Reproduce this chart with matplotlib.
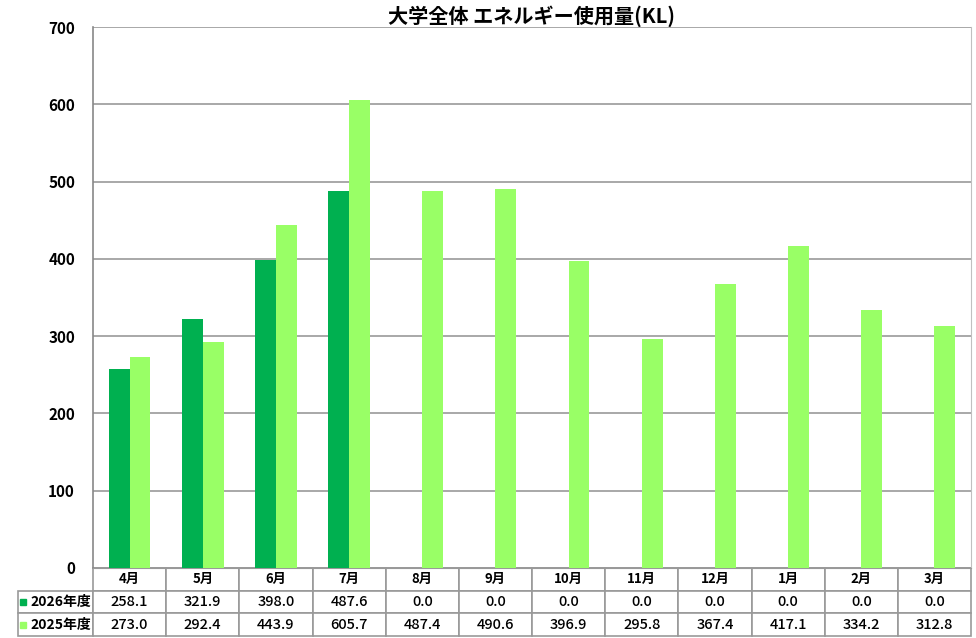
import numpy as np
import matplotlib
matplotlib.use("Agg")
import matplotlib.pyplot as plt

plt.rcParams['font.family'] = ['Noto Sans CJK JP', 'DejaVu Sans']

# データ
months = ['4月', '5月', '6月', '7月', '8月', '9月', '10月', '11月', '12月', '1月', '2月', '3月']
fy2026 = [258.1, 321.9, 398.0, 487.6, 0.0, 0.0, 0.0, 0.0, 0.0, 0.0, 0.0, 0.0]
fy2025 = [273.0, 292.4, 443.9, 605.7, 487.4, 490.6, 396.9, 295.8, 367.4, 417.1, 334.2, 312.8]
series_names = ['2026年度', '2025年度']
colors = ['#00B050', '#99FF66']
title = '大学全体 エネルギー使用量(KL)'

fig = plt.figure(figsize=(9.76, 6.38), dpi=100)
ax = fig.add_axes([93 / 976, 70 / 638, 878 / 976, 541 / 638])

x = np.arange(len(months))
w = 0.285
ax.bar(x - w / 2, fy2026, width=w, color=colors[0], zorder=3)
ax.bar(x + w / 2, fy2025, width=w, color=colors[1], zorder=3)

ax.set_xlim(-0.5, len(months) - 0.5)
ax.set_ylim(0, 700)
ax.set_yticks(range(0, 701, 100))
ax.set_xticks([])
ax.yaxis.grid(True, color='#999999', linewidth=1.2, zorder=0)
ax.tick_params(axis='y', length=0, pad=13, labelsize=11)
for lab in ax.get_yticklabels():
    lab.set_fontweight('bold')
ax.spines['left'].set_color('#888888')
ax.spines['bottom'].set_color('#999999')
ax.spines['top'].set_visible(False)
ax.spines['right'].set_color('#c0c0c0')
ax.spines['left'].set_linewidth(1.2)

ax.set_title(title, fontsize=14.5, fontweight='bold', pad=2)

# データテーブル
header = [''] + months
rows = [[series_names[0]] + [f'{v:.1f}' for v in fy2026],
        [series_names[1]] + [f'{v:.1f}' for v in fy2025]]
col_w = [75] + [878 / 12] * 12
total = sum(col_w)
tbl = ax.table(cellText=rows, colLabels=header,
               colWidths=[c / total for c in col_w],
               cellLoc='center',
               bbox=[-75 / 878, -68 / 541, total / 878, 68 / 541])
tbl.auto_set_font_size(False)
for (r, c), cell in tbl.get_celld().items():
    cell.set_edgecolor('#999999')
    cell.set_linewidth(1.2)
    cell.get_text().set_fontsize(10.5)
    cell.get_text().set_fontweight('medium')
    if r == 0:
        cell.get_text().set_fontweight('bold')
        cell.get_text().set_fontsize(9.5)
        if c == 0:
            cell.visible_edges = ''
    else:
        if c == 0:
            cell.get_text().set_ha('right')
            cell.PAD = 0.03
            cell._loc = 'right'
            cell.get_text().set_fontweight('bold')
            cell.get_text().set_fontsize(10)

# 凡例マーカー
for i, col in enumerate(colors):
    ax.plot([-70 / 878], [(-34 - 22.5 * i) / 541], marker='s', markersize=5,
            color=col, transform=ax.transAxes, clip_on=False)

fig.savefig('out.png', dpi=100)
